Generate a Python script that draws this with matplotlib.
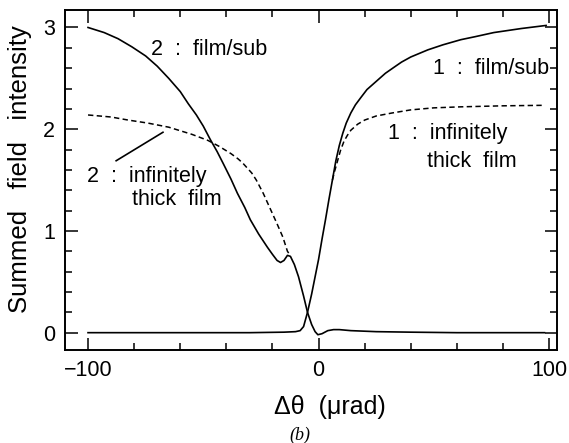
import matplotlib
matplotlib.use('Agg')
import matplotlib.pyplot as plt
from matplotlib.ticker import MultipleLocator

plt.rcParams['font.family'] = ['Liberation Sans', 'DejaVu Sans']

# curve 1 : film/sub (rising)
x_film1 = [-100, -60, -30, -15, -10, -8, -6.5, -4.8, -3, -1.5, 0, 1.5, 3, 4.5, 6, 7.5, 9,
           10.5, 12, 14, 16, 18.3, 21, 25.5, 29, 32.8, 36, 40, 47.4, 54, 61.7, 68, 76, 88, 98.7]
y_film1 = [0, 0, 0, 0.005, 0.01, 0.02, 0.06, 0.20, 0.38, 0.55, 0.72, 0.92, 1.11, 1.31, 1.50,
           1.69, 1.84, 1.96, 2.06, 2.16, 2.24, 2.31, 2.39, 2.48, 2.55, 2.61, 2.66, 2.71, 2.78,
           2.83, 2.88, 2.91, 2.95, 2.99, 3.02]

# curve 2 : film/sub (falling)
x_film2 = [-100, -93, -87, -81, -75, -70, -65, -60, -56.5, -53, -50, -47, -44, -41.3, -38,
           -35.2, -32, -29.6, -26, -22.2, -20, -18, -16.5, -15, -13.5, -12.2, -10.5, -8.7,
           -6.5, -4.8, -3, -1.5, -0.3, 1.5, 4, 6.5, 9, 14, 25, 40, 60, 80, 98]
y_film2 = [3.00, 2.95, 2.89, 2.81, 2.72, 2.62, 2.50, 2.37, 2.25, 2.14, 2.03, 1.90, 1.78, 1.66,
           1.51, 1.37, 1.23, 1.11, 0.97, 0.84, 0.77, 0.71, 0.69, 0.71, 0.76, 0.75, 0.67, 0.55,
           0.36, 0.20, 0.08, 0.01, -0.02, -0.01, 0.02, 0.03, 0.03, 0.02, 0.01, 0.005, 0.0,
           0.0, 0.0]

# infinitely thick film curves (dashed)
x_thick1 = [6, 7, 8, 9.5, 11, 12.5, 14, 17, 20, 25, 32, 40, 50, 61.7, 80, 98]
y_thick1 = [1.50, 1.59, 1.67, 1.79, 1.88, 1.94, 1.99, 2.05, 2.09, 2.13, 2.16, 2.19, 2.21,
            2.22, 2.23, 2.235]

x_thick2 = [-100, -90, -82.6, -74, -65, -55, -48, -43, -38, -35, -33, -31, -29, -27, -24,
            -21, -18, -15.5, -13.5, -12.3]
y_thick2 = [2.14, 2.12, 2.09, 2.06, 2.02, 1.95, 1.89, 1.83, 1.76, 1.71, 1.67, 1.62, 1.57,
            1.50, 1.37, 1.22, 1.07, 0.94, 0.80, 0.76]

fig = plt.figure(figsize=(5.69, 4.43), dpi=100)
ax = fig.add_axes([0.1142, 0.210, 0.865, 0.767])

dash = (0, (3.5, 2.2))
ax.plot(x_film1, y_film1, color='black', lw=1.2)
ax.plot(x_film2, y_film2, color='black', lw=1.2)
ax.plot(x_thick1, y_thick1, color='black', lw=1.1, linestyle=dash)
ax.plot(x_thick2, y_thick2, color='black', lw=1.1, linestyle=dash)

ax.set_xlim(-110, 103.5)
ax.set_ylim(-0.17, 3.17)

ax.xaxis.set_major_locator(MultipleLocator(100))
ax.xaxis.set_minor_locator(MultipleLocator(20))
ax.yaxis.set_major_locator(MultipleLocator(1))
ax.yaxis.set_minor_locator(MultipleLocator(0.2))
ax.tick_params(which='both', direction='in', top=True, right=True, width=1.1)
ax.tick_params(which='major', length=9, labelsize=15.5, pad=7)
ax.tick_params(which='minor', length=5)
for sp in ax.spines.values():
    sp.set_linewidth(1.4)

# labels
ax.set_xlabel('Δθ  (μrad)', fontsize=18)
ax.set_ylabel('Summed   field   intensity', fontsize=18.5, va='center')
ax.xaxis.set_label_coords(0.539, -0.132)
ax.yaxis.set_label_coords(-0.091, 0.532)

# annotations
fs = 15.5
ax.text(-72.7, 2.725, '2  :  film/sub', fontsize=fs)
ax.text(-100.3, 1.483, '2  :  infinitely', fontsize=fs)
ax.text(-81, 1.255, 'thick  film', fontsize=fs)
ax.plot([-87.8, -67.5], [1.69, 1.97], color='black', lw=1.2)
ax.text(49.8, 2.546, '1  :  film/sub', fontsize=fs)
ax.text(30.3, 1.90, '1  :  infinitely', fontsize=fs)
ax.text(47.2, 1.63, 'thick  film', fontsize=fs)

fig.text(300 / 569, 1 - 435 / 443, '(b)', fontsize=13, style='italic',
         family='Liberation Serif', ha='center', va='center')

fig.savefig('out.png', dpi=100)
plt.close(fig)
